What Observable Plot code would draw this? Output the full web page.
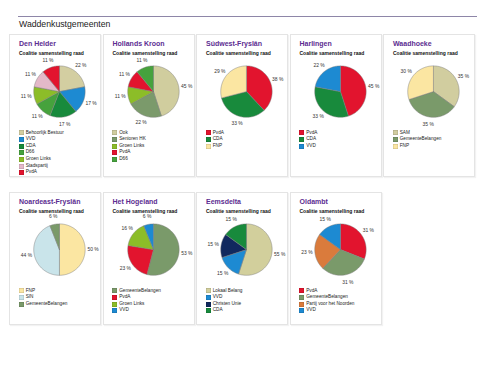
<!DOCTYPE html>
<html>
<head>
<meta charset="utf-8">
<script src="https://cdn.jsdelivr.net/npm/d3@7"></script>
<script src="https://cdn.jsdelivr.net/npm/@observablehq/plot@0.6"></script>
<style>
  html, body { margin: 0; padding: 0; background: #fff; }
  body { font-family: "Liberation Sans", Arial, sans-serif; }
  #root { position: relative; width: 490px; height: 367px; overflow: hidden; background: #fff; }
  .rule { position: absolute; left: 18px; top: 16px; width: 459px; height: 1px; background: #8e86a8; }
  .main-title { position: absolute; left: 19px; top: 20px; font-size: 8.7px; line-height: 8.7px; color: #222; white-space: nowrap; }
  .panel { position: absolute; box-sizing: border-box; width: 92px; border: 1px solid #e4e4e4; box-shadow: 1px 1px 1px rgba(0,0,0,0.05); background: #fff; }
  .ptitle { position: absolute; left: 9px; top: 4.8px; font-size: 7px; line-height: 7px; font-weight: bold; color: #5c2d91; white-space: nowrap; }
  .psub { position: absolute; left: 9px; top: 16px; font-size: 5px; line-height: 5px; font-weight: bold; color: #111; white-space: nowrap; }
  .pie { position: absolute; left: -1px; top: 21px; }
  .legend { position: absolute; left: 8.5px; top: 94.5px; }
  .lrow { position: relative; height: 6.65px; font-size: 4.7px; line-height: 6.65px; color: #222; white-space: nowrap; }
  .sw { position: absolute; left: 0; top: 0.9px; width: 5px; height: 5px; box-shadow: inset 0 0 0 0.4px rgba(0,0,0,0.2); }
  .lt { position: absolute; left: 7.2px; top: 0; }
</style>
</head>
<body>
<div id="root">
  <div class="rule"></div>
  <div class="main-title">Waddenkustgemeenten</div>
</div>
<script>
// ---------- data ----------
const chartTitle = "Waddenkustgemeenten";
const panelSubtitle = "Coalitie samenstelling raad";

const municipalities = ["Den Helder", "Hollands Kroon", "Súdwest-Fryslân", "Harlingen", "Waadhoeke",
                        "Noardeast-Fryslân", "Het Hogeland", "Eemsdelta", "Oldambt"];

const denHelderParties = ["Behoorlijk Bestuur", "VVD", "CDA", "D66", "Groen Links", "Stadspartij", "PvdA"];
const denHelderShares  = [22, 17, 17, 11, 11, 11, 11];

const hollandsKroonParties = ["Ook", "Senioren HK", "Groen Links", "PvdA", "D66"];
const hollandsKroonShares  = [45, 22, 11, 11, 11];

const sudwestParties = ["PvdA", "CDA", "FNP"];
const sudwestShares  = [38, 33, 29];

const harlingenParties = ["PvdA", "CDA", "VVD"];
const harlingenShares  = [45, 33, 22];

const waadhoekeParties = ["SAM", "GemeenteBelangen", "FNP"];
const waadhoekeShares  = [35, 35, 30];

const noardeastParties = ["FNP", "SIN", "GemeenteBelangen"];
const noardeastShares  = [50, 44, 6];

const hogelandParties = ["GemeenteBelangen", "PvdA", "Groen Links", "VVD"];
const hogelandShares  = [53, 23, 16, 6];

const eemsdeltaParties = ["Lokaal Belang", "VVD", "Christen Unie", "CDA"];
const eemsdeltaShares  = [55, 15, 15, 15];

const oldambtParties = ["PvdA", "GemeenteBelangen", "Partij voor het Noorden", "VVD"];
const oldambtShares  = [31, 31, 23, 15];

const partyParties = [denHelderParties, hollandsKroonParties, sudwestParties, harlingenParties, waadhoekeParties,
                      noardeastParties, hogelandParties, eemsdeltaParties, oldambtParties];
const partyShares = [denHelderShares, hollandsKroonShares, sudwestShares, harlingenShares, waadhoekeShares,
                     noardeastShares, hogelandShares, eemsdeltaShares, oldambtShares];

// party colours
const colorParties = ["Behoorlijk Bestuur", "Ook", "SAM", "Lokaal Belang", "VVD", "CDA", "D66", "Groen Links",
                      "Stadspartij", "PvdA", "Senioren HK", "GemeenteBelangen", "FNP", "SIN", "Christen Unie",
                      "Partij voor het Noorden"];
const colorValues  = ["#d3cea1", "#d0cd9e", "#d1cd9f", "#d2cf9c", "#1d8ad2", "#188a3c", "#46a23d", "#8cbd28",
                      "#e4b9c9", "#e2142e", "#7b9a6b", "#7a9a6a", "#fbe6a2", "#c9e4ea", "#11295e",
                      "#da7b3c"];

// ---------- layout ----------
const root = document.getElementById("root");
const R = 26;         // pie radius (in plot units = px)
const LR = 34;        // label radius

function panelEl(i) {
  const row = Math.floor(i / 5), col = i % 5;
  const el = document.createElement("div");
  el.className = "panel";
  el.style.left = (9 + 93.5 * col) + "px";
  el.style.top = (row === 0 ? 34 : 192) + "px";
  el.style.height = (row === 0 ? 143 : 133) + "px";
  return el;
}

municipalities.forEach((name, i) => {
  const parties = partyParties[i];
  const shares = partyShares[i];
  const total = d3.sum(shares);

  const el = panelEl(i);
  const t = document.createElement("div");
  t.className = "ptitle"; t.textContent = name; el.appendChild(t);
  const s = document.createElement("div");
  s.className = "psub"; s.textContent = panelSubtitle; el.appendChild(s);

  // slice polygons and labels (angles clockwise from 12 o'clock)
  const pts = [];
  const labels = [];
  let acc = 0;
  parties.forEach((p, k) => {
    const a0 = acc / total * 2 * Math.PI;
    acc += shares[k];
    const a1 = acc / total * 2 * Math.PI;
    const key = p + "_" + k;
    pts.push({key, party: p, x: 0, y: 0});
    const n = Math.max(2, Math.ceil((a1 - a0) / (Math.PI / 180)));
    for (let j = 0; j <= n; j++) {
      const a = a0 + (a1 - a0) * j / n;
      pts.push({key, party: p, x: R * Math.sin(a), y: R * Math.cos(a)});
    }
    pts.push({key, party: p, x: 0, y: 0});
    const am = (a0 + a1) / 2;
    labels.push({x: LR * Math.sin(am), y: LR * Math.cos(am), text: shares[k] + " %"});
  });

  const plot = Plot.plot({
    width: 92,
    height: 72,
    margin: 0,
    x: {domain: [-50.5, 41.5], axis: null},
    y: {domain: [-36.5, 35.5], axis: null},
    color: {type: "ordinal", domain: colorParties, range: colorValues},
    style: {background: "transparent", fontFamily: "'Liberation Sans', Arial, sans-serif", overflow: "visible"},
    marks: [
      Plot.line(pts, {x: "x", y: "y", z: "key", fill: "party", stroke: "#7d7d7d", strokeWidth: 0.5, curve: "linear"}),
      Plot.text(labels, {x: "x", y: "y", text: "text", fontSize: 5, fill: "#333", textAnchor: "middle"})
    ]
  });
  const pw = document.createElement("div");
  pw.className = "pie";
  pw.appendChild(plot);
  el.appendChild(pw);

  const lg = document.createElement("div");
  lg.className = "legend";
  parties.forEach(p => {
    const r = document.createElement("div");
    r.className = "lrow";
    const sw = document.createElement("div");
    sw.className = "sw";
    sw.style.background = colorValues[colorParties.indexOf(p)];
    const lt = document.createElement("span");
    lt.className = "lt"; lt.textContent = p;
    r.appendChild(sw); r.appendChild(lt);
    lg.appendChild(r);
  });
  el.appendChild(lg);
  root.appendChild(el);
});
</script>
</body>
</html>
